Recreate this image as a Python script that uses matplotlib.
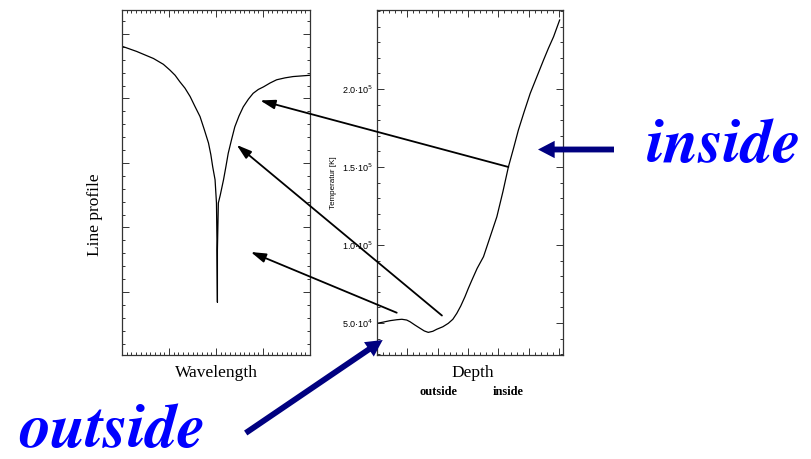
import matplotlib
matplotlib.use("Agg")
import matplotlib.pyplot as plt
from matplotlib import font_manager as fm
from matplotlib.ticker import MultipleLocator, FixedLocator, NullFormatter

# Line profile (arbitrary units) versus wavelength
wavelength = [0.00, 0.31, 0.67, 0.88, 1.02, 1.13, 1.23, 1.34, 1.45, 1.55, 1.66,
              1.75, 1.84, 1.89, 1.93, 1.98, 2.01, 2.02, 2.03, 2.03, 2.05, 2.09,
              2.16, 2.21, 2.26, 2.33, 2.40, 2.49, 2.58, 2.69, 2.79, 2.90, 3.01,
              3.15, 3.29, 3.47, 3.64, 3.82, 4.00]
profile = [3.81, 3.73, 3.62, 3.53, 3.44, 3.36, 3.26, 3.16, 3.03, 2.88, 2.72,
           2.52, 2.31, 2.13, 1.94, 1.74, 1.38, 0.81, -0.16, 0.65, 1.38, 1.50,
           1.74, 1.94, 2.15, 2.36, 2.56, 2.73, 2.87, 2.99, 3.08, 3.14, 3.18,
           3.24, 3.29, 3.32, 3.34, 3.35, 3.36]

# Temperature stratification versus depth
depth = [0.00, 0.21, 0.43, 0.65, 0.82, 0.98, 1.09, 1.25, 1.42, 1.56, 1.69,
         1.84, 1.97, 2.17, 2.35, 2.50, 2.63, 2.76, 2.90, 3.01, 3.13, 3.30,
         3.51, 3.73, 3.95, 4.15, 4.33, 4.50, 4.66, 4.85, 5.05, 5.27, 5.49,
         5.65, 5.82, 6.02]
temperature = [49800, 50600, 51500, 52100, 52400, 51900, 50800, 48700, 46600,
               44900, 44000, 44700, 46000, 47600, 49800, 52400, 56200, 60900,
               66900, 72200, 77600, 85000, 92500, 105300, 118100, 134200,
               150000, 162000, 173700, 185400, 197200, 207900, 218600, 226100,
               233500, 244200]

temp_ticks = [50000, 100000, 150000, 200000]
temp_labels = ["5.0·10$^4$", "1.0·10$^5$", "1.5·10$^5$", "2.0·10$^5$"]

# Depth points linked to the wavelength positions where they form the line
link_depth = [4.33, 2.14, 0.65]
link_temp = [150000, 54800, 56600]
link_wave = [2.94, 2.44, 2.74]
link_prof = [2.97, 2.28, 0.62]

W, H = 811, 459
fig = plt.figure(figsize=(W / 100, H / 100), dpi=100)
fig.patch.set_facecolor("white")

serif = "Liberation Serif"
sans = "Liberation Sans"

# Times-like bold italic face shipped with matplotlib
big_font = fm.FontProperties(family="STIXGeneral", style="italic",
                             weight="bold", size=45.5)


def fx(px):
    return px / W


def fy(py):
    return 1 - py / H


ax1 = fig.add_axes([fx(122), fy(355), 188 / W, 345 / H])
ax2 = fig.add_axes([fx(377), fy(355), 186 / W, 345 / H])

for ax in (ax1, ax2):
    for s in ax.spines.values():
        s.set_color("#333333")
        s.set_linewidth(0.9)
    ax.tick_params(which="both", direction="in", top=True, right=True,
                   color="#333333", width=0.7)
    ax.tick_params(which="major", length=5)
    ax.tick_params(which="minor", length=2.5)

# Left panel: line profile
ax1.plot(wavelength, profile, color="black", lw=0.9)
ax1.set_xlim(0, 4)
ax1.set_ylim(-0.977, 4.372)
ax1.xaxis.set_major_locator(MultipleLocator(1))
ax1.xaxis.set_minor_locator(MultipleLocator(0.1))
ax1.yaxis.set_major_locator(MultipleLocator(1))
ax1.yaxis.set_minor_locator(MultipleLocator(0.2))
ax1.xaxis.set_major_formatter(NullFormatter())
ax1.yaxis.set_major_formatter(NullFormatter())

# Right panel: temperature
ax2.plot(depth, temperature, color="black", lw=0.9)
ax2.set_xlim(0, 6.13)
ax2.set_ylim(29500, 250600)
ax2.xaxis.set_major_locator(MultipleLocator(1))
ax2.xaxis.set_minor_locator(MultipleLocator(0.2))
ax2.xaxis.set_major_formatter(NullFormatter())
ax2.yaxis.set_major_locator(FixedLocator(temp_ticks))
ax2.yaxis.set_minor_locator(MultipleLocator(10000))
ax2.set_yticklabels(temp_labels, fontsize=6.5, family=sans)
ax2.tick_params(axis="y", which="major", pad=3)
ax2.set_ylabel("Temperatur [K]", fontsize=5.8, family=sans, labelpad=3)

# Black connectors from the temperature curve to the line profile
for d, t, w, p in zip(link_depth, link_temp, link_wave, link_prof):
    ax2.annotate("", xy=(w, p), xycoords=ax1.transData,
                 xytext=(d, t), textcoords=ax2.transData,
                 arrowprops=dict(arrowstyle="-|>,head_length=0.9,head_width=0.28",
                                 color="black", lw=1.3, shrinkA=0, shrinkB=0,
                                 mutation_scale=10),
                 annotation_clip=False)

# Axis titles
fig.text(fx(95), fy(215), "Line profile", rotation=90, ha="center", va="center",
         fontsize=12.5, family=serif)
fig.text(fx(216.5), fy(373), "Wavelength", ha="center", va="center",
         fontsize=12.5, family=serif)
fig.text(fx(473), fy(373), "Depth", ha="center", va="center",
         fontsize=12.5, family=serif)
fig.text(fx(438), fy(392), "outside", ha="center", va="center",
         fontsize=9, family=serif, weight="bold")
fig.text(fx(508), fy(392), "inside", ha="center", va="center",
         fontsize=9, family=serif, weight="bold")

# Big blue captions with pointers
navy = "#000080"
arrow_style = "simple,head_length=1.2,head_width=1.25,tail_width=0.42"
ax2.annotate("", xy=(538, H - 149.5), xycoords="figure pixels",
             xytext=(614, H - 149.5), textcoords="figure pixels",
             arrowprops=dict(arrowstyle=arrow_style, color=navy, lw=0,
                             shrinkA=0, shrinkB=0, mutation_scale=10),
             annotation_clip=False)
ax2.annotate("", xy=(382.7, H - 340), xycoords="figure pixels",
             xytext=(245.7, H - 433), textcoords="figure pixels",
             arrowprops=dict(arrowstyle=arrow_style, color=navy, lw=0,
                             shrinkA=0, shrinkB=0, mutation_scale=10),
             annotation_clip=False)

fig.text(fx(647), fy(162), "inside", ha="left", va="baseline",
         fontproperties=big_font, color="#0000FF")
fig.text(fx(19), fy(447), "outside", ha="left", va="baseline",
         fontproperties=big_font, color="#0000FF")

fig.savefig("out.png", dpi=100, facecolor="white")
